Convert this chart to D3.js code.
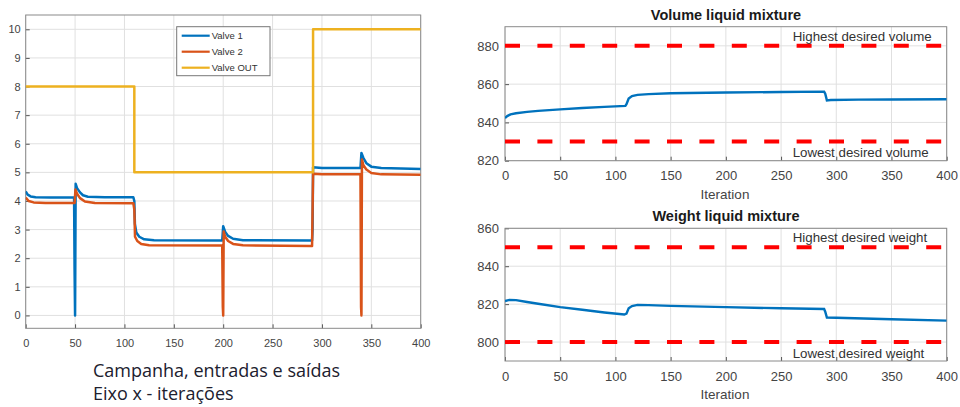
<!DOCTYPE html>
<html lang="en">
<head>
  <meta charset="UTF-8">
  <title>Valves, volume and weight</title>
  <style>
    body { margin: 0; background: #fff; }
    svg { display: block; font-family: "Liberation Sans", Arial, sans-serif; }
    .grid line { stroke: #e0e0e0; stroke-width: 1; }
    .axis path { display: none; }
    .axis line { stroke: #555; }
    .axis text { fill: #444; }
  </style>
</head>
<body>
  <script src="https://cdn.jsdelivr.net/npm/d3@7/dist/d3.min.js"></script>
  <script>
    // --- data ---
    const xTicks = [0, 50, 100, 150, 200, 250, 300, 350, 400];
    const valveTicks = [0, 1, 2, 3, 4, 5, 6, 7, 8, 9, 10];
    const volumeTicks = [820, 840, 860, 880];
    const weightTicks = [800, 820, 840, 860];
    const valveNames = ['Valve 1', 'Valve 2', 'Valve OUT'];

    const valve1 = [[0,4.33],[2,4.22],[5,4.16],[10,4.13],[25,4.12],[49,4.12],[49.5,1.6],[50,0],[50.6,4.6],[52,4.45],
      [55,4.3],[58,4.2],[63,4.15],[80,4.13],[109,4.13],[110,4.0],[110.6,3.2],[112,2.9],[115,2.75],[120,2.66],
      [130,2.63],[199,2.62],[200,3.12],[202,2.92],[205,2.78],[210,2.68],[220,2.63],[290,2.62],[290.5,3.0],
      [291,5.18],[300,5.15],[339,5.15],[340,5.68],[342,5.5],[345,5.32],[350,5.2],[360,5.15],[400,5.12]];
    const valve2 = [[0,4.12],[3,4.0],[8,3.95],[20,3.93],[49.5,3.93],[50.4,4.4],[52,4.25],[55,4.1],[60,3.98],
      [70,3.93],[109,3.92],[110,3.7],[110.7,2.75],[113,2.6],[117,2.5],[125,2.45],[199,2.44],[199.6,0.3],[200,0],
      [200.5,2.93],[202,2.75],[205,2.6],[210,2.5],[220,2.45],[290,2.43],[291,4.95],[300,4.93],[339,4.93],
      [339.6,0.3],[340,0],[340.5,5.45],[342,5.25],[345,5.1],[350,4.98],[360,4.93],[400,4.92]];
    const valveOut = [[0,8],[110,8],[110,5],[291,5],[291,10],[400,10]];

    const volume = [[0,842.3],[2,843.3],[5,844.2],[10,844.8],[20,845.5],[30,846.0],[50,846.8],[70,847.5],
      [90,848.1],[109,848.6],[110,849.5],[112,852.5],[115,853.8],[120,854.4],[130,854.8],[150,855.2],
      [200,855.6],[250,855.9],[289,856.1],[290,855],[291.5,851.5],[295,851.7],[320,851.9],[350,852.0],[400,852.1]];
    const volumeLimits = [880, 830];
    const weight = [[0,821.6],[4,822.2],[10,822.1],[20,821.1],[30,820.2],[50,818.4],[70,817.0],[90,815.6],
      [108,814.5],[110,815],[112,817.8],[115,819.0],[120,819.6],[130,819.5],[150,819.1],[200,818.4],
      [250,817.8],[289,817.4],[290,816],[291.5,812.9],[300,812.8],[350,812.0],[400,811.3]];
    const weightLimits = [850, 800];

    const colors = ['#0072BD', '#D95319', '#EDB120'];

    const svg = d3.select('body').append('svg').attr('width', 960).attr('height', 407);

    // one boxed MATLAB-like panel
    function panel(opt) {
      const x = d3.scaleLinear().domain([0, 400]).range([opt.left, opt.right]);
      const y = d3.scaleLinear().domain(opt.yDomain).range([opt.bottom, opt.top]);
      const g = svg.append('g');

      const grid = g.append('g').attr('class', 'grid');
      grid.selectAll('line.v').data(xTicks).enter().append('line')
        .attr('x1', d => x(d)).attr('x2', d => x(d)).attr('y1', opt.top).attr('y2', opt.bottom);
      grid.selectAll('line.h').data(opt.yTicks).enter().append('line')
        .attr('y1', d => y(d)).attr('y2', d => y(d)).attr('x1', opt.left).attr('x2', opt.right);

      g.append('g').attr('class', 'axis').attr('transform', `translate(0,${opt.bottom})`)
        .call(d3.axisBottom(x).tickValues(xTicks).tickSize(-4).tickPadding(opt.xPad))
        .selectAll('text').style('font-size', opt.fs + 'px');
      g.append('g').attr('class', 'axis').attr('transform', `translate(${opt.left},0)`)
        .call(d3.axisLeft(y).tickValues(opt.yTicks).tickSize(-4).tickPadding(opt.yPad))
        .selectAll('text').style('font-size', opt.fs + 'px');

      g.append('rect').attr('x', opt.left).attr('y', opt.top)
        .attr('width', opt.right - opt.left).attr('height', opt.bottom - opt.top)
        .attr('fill', 'none').attr('stroke', '#8a8a8a').attr('stroke-width', 1);

      const clip = 'clip' + Math.round(opt.top);
      g.append('clipPath').attr('id', clip).append('rect')
        .attr('x', opt.left).attr('y', opt.top).attr('width', opt.right - opt.left).attr('height', opt.bottom - opt.top);
      const body = g.append('g').attr('clip-path', `url(#${clip})`);
      const line = d3.line().x(d => x(d[0])).y(d => y(d[1]));
      return { x, y, g, body, line };
    }

    // --- left: valves ---
    const left = panel({ left: 25.7, right: 420.7, top: 15, bottom: 328.3, yDomain: [-0.45, 10.5],
      yTicks: valveTicks, fs: 11, xPad: 11, yPad: 5 });
    [valve1, valve2, valveOut].forEach((s, i) => {
      left.body.append('path').attr('d', left.line(s)).attr('fill', 'none')
        .attr('stroke', colors[i]).attr('stroke-width', 2.5).attr('stroke-linejoin', 'round');
    });
    const legend = svg.append('g').attr('transform', 'translate(176.7,26.7)');
    legend.append('rect').attr('width', 93.3).attr('height', 49).attr('fill', '#fff')
      .attr('stroke', '#777').attr('stroke-width', 1);
    valveNames.forEach((n, i) => {
      const yy = 9 + i * 16;
      legend.append('line').attr('x1', 5).attr('x2', 33).attr('y1', yy).attr('y2', yy)
        .attr('stroke', colors[i]).attr('stroke-width', 2.2);
      legend.append('text').attr('x', 35).attr('y', yy + 3.5).text(n)
        .style('font-size', '9.5px').attr('fill', '#333');
    });
    svg.append('text').attr('x', 93).attr('y', 377).text('Campanha, entradas e saídas')
      .style('font-family', '"Open Sans", sans-serif').style('font-size', '18px').attr('fill', '#20202e');
    svg.append('text').attr('x', 93).attr('y', 400).text('Eixo x - iterações')
      .style('font-family', '"Open Sans", sans-serif').style('font-size', '18px').attr('fill', '#20202e');

    // --- right: volume and weight ---
    function limitPanel(opt, data, limits, title, hi, lo) {
      const p = panel(Object.assign({ left: 505, right: 946.7, fs: 13, xPad: 10.5, yPad: 6, yTicks: opt.ticks }, opt));
      p.body.selectAll('line.lim').data(limits).enter().append('line')
        .attr('x1', p.x(0)).attr('x2', p.x(400)).attr('y1', d => p.y(d)).attr('y2', d => p.y(d))
        .attr('stroke', '#ff0000').attr('stroke-width', 4).attr('stroke-dasharray', '15,17.4');
      p.body.append('path').attr('d', p.line(data)).attr('fill', 'none')
        .attr('stroke', colors[0]).attr('stroke-width', 2.4);
      p.g.append('text').attr('x', 792.7).attr('y', opt.top + 14).text(hi)
        .style('font-size', '13.3px').attr('fill', '#333');
      p.g.append('text').attr('x', 792.7).attr('y', opt.bottom - 3.5).text(lo)
        .style('font-size', '13.3px').attr('fill', '#333');
      p.g.append('text').attr('x', 726).attr('y', opt.top - 7).attr('text-anchor', 'middle').text(title)
        .style('font-size', '14.5px').style('font-weight', 'bold').attr('fill', '#1a1a1a');
      p.g.append('text').attr('x', 725).attr('y', opt.bottom + 38).attr('text-anchor', 'middle').text('Iteration')
        .style('font-size', '13.5px').attr('fill', '#444');
    }
    limitPanel({ top: 26.7, bottom: 160.7, yDomain: [820, 890], ticks: volumeTicks },
      volume, volumeLimits, 'Volume liquid mixture', 'Highest desired volume', 'Lowest desired volume');
    limitPanel({ top: 228.3, bottom: 361, yDomain: [790, 860], ticks: weightTicks },
      weight, weightLimits, 'Weight liquid mixture', 'Highest desired weight', 'Lowest desired weight');
  </script>
</body>
</html>
